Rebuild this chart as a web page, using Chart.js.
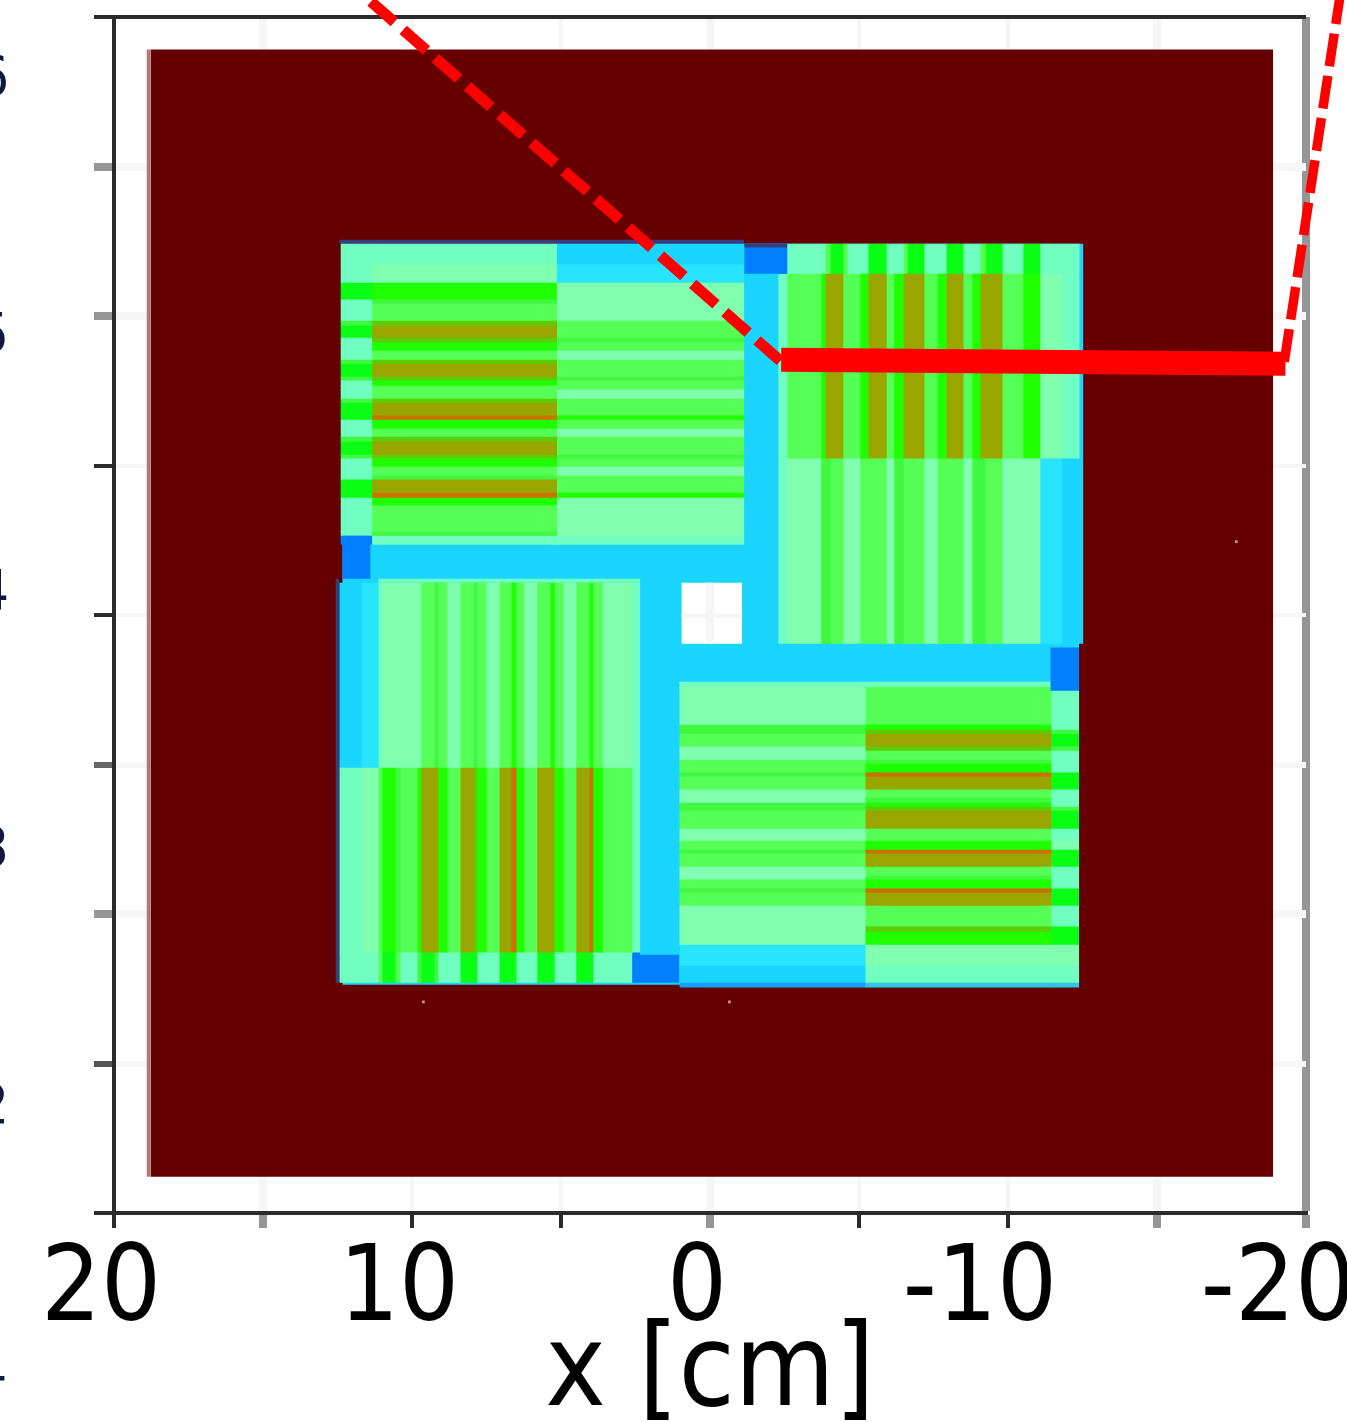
<!DOCTYPE html>
<html>
<head>
<meta charset="utf-8">
<title>x [cm]</title>
<script src="https://cdn.jsdelivr.net/npm/chart.js@4"></script>
<style>
    html, body { margin: 0; padding: 0; background: #fff; overflow: hidden; }
    canvas { display: block; }
</style>
</head>
<body>
<canvas id="map" width="1347" height="1422"></canvas>
<script>
// colour of each flux level, jet style
const levelColors = [
    '#660000', '#0080ff', '#1ad6ff', '#28e4ff', '#70ffc0', '#80ffb0', '#55ff55', '#1eff00',
    '#0aff14', '#99a600', '#cc7000', '#5ccc08', '#40f840', '#b07878', '#f6f6f6', '#334080',
    '#1a9fff', '#30c4e8', '#ffffff'
];

// x0, x1, y0, y1, level in cm
const baseCells = [
    [18.78, -18.90, -18.79, 18.91, 0],
    [18.91, 18.78, -18.79, 18.91, 13],
    [12.34, -12.39, -12.37, 12.42, 2],
    [12.44, -1.15, 12.42, 12.55, 15],
    [12.57, 12.44, -12.30, 1.21, 15],
    [11.13, 2.34, 1.08, 1.21, 4]
];

// top left assembly
const tlX = [12.40, 11.34, 5.14, -1.15];
const tlY = [12.42, 11.72, 11.11, 10.55, 10.41, 9.84, 9.68, 9.27, 9.11, 8.84, 8.54, 8.40, 7.97, 7.84, 7.67, 7.54,
    7.23, 7.10, 6.67, 6.53, 6.23, 5.96, 5.80, 5.36, 5.23, 4.96, 4.66, 4.53, 4.09, 3.92, 3.66, 2.79, 2.65, 2.35];
const tlLevels = [
    [4, 4, 2], [4, 5, 3], [8, 7, 5], [4, 12, 5], [4, 6, 5], [12, 11, 6], [8, 9, 6], [4, 11, 12],
    [4, 7, 6], [4, 6, 5], [12, 11, 6], [8, 9, 6], [12, 11, 12], [4, 7, 6], [4, 6, 6], [4, 6, 5],
    [12, 11, 6], [8, 9, 6], [8, 10, 7], [4, 7, 6], [4, 6, 5], [12, 11, 6], [8, 9, 6], [12, 11, 12],
    [4, 7, 6], [4, 6, 5], [4, 12, 6], [8, 9, 6], [8, 10, 7], [4, 7, 5], [4, 6, 5], [4, 12, 5], [1, 4, 4]
];

// top right assembly, one triple per column
const trX = [-2.29, -2.59, -3.73, -3.87, -4.04, -4.47, -4.61, -5.04, -5.31, -5.92, -6.18, -6.49, -6.62, -7.19,
    -7.63, -7.93, -8.50, -8.80, -9.07, -9.24, -9.81, -10.51, -11.08, -11.82, -12.39, -12.53];
const trY = [12.42, 11.41, 5.23, -0.96];
const trColumns = [
    [1, 4, 4], [4, 6, 5], [4, 7, 12], [6, 9, 12], [8, 9, 6], [6, 6, 5], [4, 6, 5], [4, 7, 6], [8, 9, 6],
    [4, 6, 5], [4, 7, 12], [6, 9, 6], [8, 9, 6], [4, 6, 5], [4, 7, 6], [8, 9, 6], [4, 6, 5], [4, 7, 12],
    [6, 9, 12], [8, 9, 6], [4, 6, 5], [8, 7, 5], [4, 5, 3], [4, 4, 2], [2, 2, 2]
];

// bottom left assembly, one triple per column
const blX = [12.44, 12.27, 11.70, 11.13, 11.00, 10.56, 10.39, 9.82, 9.69, 9.25, 9.12, 8.82, 8.38, 7.94, 7.81,
    7.51, 7.07, 6.67, 6.50, 6.23, 5.80, 5.36, 5.22, 4.92, 4.49, 4.05, 3.92, 3.61, 2.74, 2.61, 2.34];
const blY = [1.08, -5.11, -11.29, -12.30];
const blColumns = [
    [2, 4, 4], [2, 4, 4], [3, 5, 4], [4, 6, 6], [5, 7, 8], [5, 12, 6], [5, 6, 4], [5, 7, 12], [6, 9, 8],
    [12, 9, 12], [6, 7, 4], [5, 6, 4], [6, 9, 8], [12, 11, 8], [6, 7, 4], [5, 6, 4], [6, 9, 8], [7, 10, 8],
    [6, 7, 4], [5, 6, 4], [6, 9, 8], [7, 9, 8], [6, 7, 4], [5, 6, 4], [6, 9, 8], [7, 10, 8], [6, 7, 4],
    [5, 6, 4], [5, 6, 4], [4, 4, 1]
];

// bottom right assembly
const brX = [1.03, -5.21, -11.45, -12.39];
const brY = [-2.23, -2.40, -2.67, -3.67, -3.84, -3.97, -4.40, -4.54, -4.84, -4.97, -5.27, -5.41, -5.84, -6.11,
    -6.28, -6.41, -6.55, -7.15, -7.55, -7.85, -7.98, -8.42, -8.72, -8.85, -9.15, -9.29, -9.72, -10.42, -10.59,
    -11.03, -11.73, -12.30, -12.46];
const brLevels = [
    [4, 4, 1], [5, 6, 4], [5, 6, 4], [12, 7, 4], [12, 11, 12], [6, 9, 8], [5, 11, 12], [5, 6, 4],
    [6, 12, 4], [6, 7, 4], [12, 10, 8], [6, 9, 8], [5, 6, 4], [5, 12, 4], [12, 7, 4], [12, 11, 12],
    [6, 9, 8], [5, 6, 4], [6, 7, 5], [12, 10, 8], [6, 9, 8], [5, 6, 4], [5, 12, 4], [6, 7, 4],
    [12, 10, 8], [6, 9, 8], [5, 6, 4], [5, 11, 8], [5, 7, 8], [3, 5, 5], [2, 4, 4], [16, 17, 17]
];

// corners and the centre hole
const topCells = [
    [12.34, 11.39, 1.21, 2.65, 1],
    [-1.15, -2.59, 11.41, 12.42, 1],
    [-1.15, -2.59, 12.29, 12.42, 15],
    [-11.42, -12.39, -2.53, -1.09, 1],
    [2.61, 1.03, -12.30, -11.36, 1],
    [0.96, -1.08, -0.96, 1.08, 18],
    [0.16, -0.14, -0.96, 1.08, 14],
    [0.96, -1.08, -0.09, 0.04, 14]
];

const specks = [
    { x: -17.66, y: 2.45 },
    { x: 9.62, y: -12.94 },
    { x: -0.65, y: -12.94 }
];

const solidLine = [{ x: -2.39, y: 8.54 }, { x: -19.31, y: 8.40 }];
const dashedLeft = [{ x: -2.36, y: 8.50 }, { x: 11.83, y: 20.91 }];
const dashedRight = [{ x: -19.27, y: 8.47 }, { x: -21.20, y: 21.08 }];

const xTickValues = [20, 15, 10, 5, 0, -5, -10, -15, -20];
// the trailing space pushes the minus labels left like in the original
const xTickLabels = ['20', '', '10', '', '0', '', '-10 ', '', '-20 '];
const xTickWidths = [4, 8, 4, 4, 8, 4, 4, 8, 8];
const xTickColors = ['#2b2b2b', '#969696', '#2b2b2b', '#2b2b2b', '#969696', '#2b2b2b', '#2b2b2b', '#969696', '#969696'];

const yTickValues = [20, 15, 10, 5, 0, -5, -10, -15, -20];
const yTickWidths = [4, 8, 8, 4, 4, 6, 8, 6, 4];
const yTickColors = ['#2b2b2b', '#969696', '#969696', '#2b2b2b', '#2b2b2b', '#666666', '#969696', '#555555', '#2b2b2b'];

// labels of the neighbouring plot, cut by the left edge of the picture
const cutLabels = ['6', '5', '4', '3', '2', '1'];

const fontFamily = "'DejaVu Sans Condensed', 'DejaVu Sans', sans-serif";
// about one pixel, the next cell paints over it so no seams show between cells
const seamOverlap = 0.03;

const cellSets = [];

function addCell(x0, x1, y0, y1, level) {
    cellSets.push({
        data: [{ x: x0, y: y1 }, { x: x1, y: y1 }],
        fill: { value: y0 },
        backgroundColor: levelColors[level],
        borderWidth: 0,
        pointRadius: 0
    });
}

function addGridCell(xs, ys, c, r, level) {
    const xEnd = c + 2 < xs.length ? xs[c + 1] - seamOverlap : xs[c + 1];
    const yEnd = r + 2 < ys.length ? ys[r + 1] - seamOverlap : ys[r + 1];
    addCell(xs[c], xEnd, yEnd, ys[r], level);
}

function addRows(xs, ys, levels) {
    levels.forEach(function (row, r) {
        row.forEach(function (level, c) {
            addGridCell(xs, ys, c, r, level);
        });
    });
}

function addColumns(xs, ys, columns) {
    columns.forEach(function (column, c) {
        column.forEach(function (level, r) {
            addGridCell(xs, ys, c, r, level);
        });
    });
}

baseCells.forEach(function (c) { addCell(c[0], c[1], c[2], c[3], c[4]); });
addRows(tlX, tlY, tlLevels);
addColumns(trX, trY, trColumns);
addColumns(blX, blY, blColumns);
addRows(brX, brY, brLevels);
topCells.forEach(function (c) { addCell(c[0], c[1], c[2], c[3], c[4]); });

cellSets.push({
    data: specks,
    showLine: false,
    pointStyle: 'rect',
    pointRadius: 2,
    pointBackgroundColor: '#c09090',
    pointBorderWidth: 0
});

function redLine(points, width, dash) {
    return {
        data: points,
        borderColor: '#ff0000',
        borderWidth: width,
        borderDash: dash,
        borderCapStyle: 'butt',
        pointRadius: 0,
        fill: false,
        clip: false
    };
}

cellSets.push(redLine(dashedLeft, 11, [31, 11.8]));
cellSets.push(redLine(dashedRight, 9.5, [33, 9.7]));
cellSets.push(redLine(solidLine, 24, []));

// chart.js paints the first dataset last
cellSets.reverse();

const cutLabelPlugin = {
    id: 'cutLabels',
    afterDraw: function (chart) {
        const ctx = chart.ctx;
        ctx.save();
        ctx.font = '56px ' + fontFamily;
        ctx.fillStyle = '#101840';
        ctx.textAlign = 'right';
        ctx.textBaseline = 'middle';
        cutLabels.forEach(function (label, i) {
            ctx.fillText(label, 9, 80 + i * 257);
        });
        ctx.restore();
    }
};

new Chart(document.getElementById('map'), {
    type: 'line',
    data: { datasets: cellSets },
    plugins: [cutLabelPlugin],
    options: {
        responsive: false,
        animation: false,
        layout: { autoPadding: false, padding: { top: 17, right: 41 } },
        plugins: { legend: { display: false }, tooltip: { enabled: false } },
        scales: {
            x: {
                type: 'linear',
                reverse: true,
                min: -20,
                max: 20,
                afterFit: function (scale) {
                    scale.height = 209;
                    scale.paddingLeft = 0;
                    scale.paddingRight = 0;
                },
                afterBuildTicks: function (scale) {
                    scale.ticks = xTickValues.map(function (v) { return { value: v }; });
                },
                border: { color: '#2b2b2b', width: 4 },
                grid: {
                    tickLength: 15,
                    color: function (c) { return c.tick && c.tick.value === -20 ? '#969696' : '#f6f6f6'; },
                    lineWidth: function (c) { return c.tick && c.tick.value === -20 ? 8 : xTickWidths[xTickValues.indexOf(c.tick ? c.tick.value : 0)]; },
                    tickColor: function (c) { return xTickColors[xTickValues.indexOf(c.tick.value)]; },
                    tickWidth: function (c) { return xTickWidths[xTickValues.indexOf(c.tick.value)]; }
                },
                ticks: {
                    autoSkip: false,
                    maxRotation: 0,
                    minRotation: 0,
                    padding: 2,
                    labelOffset: -13,
                    color: '#000000',
                    font: { family: fontFamily, size: 105 },
                    callback: function (v) { return xTickLabels[xTickValues.indexOf(v)]; }
                },
                title: {
                    display: true,
                    text: 'x [cm]',
                    color: '#000000',
                    padding: { top: 0, bottom: -22 },
                    font: { family: fontFamily, size: 114 }
                }
            },
            y: {
                type: 'linear',
                min: -20,
                max: 20,
                afterFit: function (scale) { scale.width = 114; },
                afterBuildTicks: function (scale) {
                    scale.ticks = yTickValues.map(function (v) { return { value: v }; });
                },
                border: { color: '#2b2b2b', width: 4 },
                grid: {
                    tickLength: 20,
                    color: function (c) { return c.tick && c.tick.value === 20 ? '#2b2b2b' : '#f6f6f6'; },
                    lineWidth: function (c) { return yTickWidths[yTickValues.indexOf(c.tick ? c.tick.value : 0)]; },
                    tickColor: function (c) { return yTickColors[yTickValues.indexOf(c.tick.value)]; },
                    tickWidth: function (c) { return yTickWidths[yTickValues.indexOf(c.tick.value)]; }
                },
                ticks: { display: false }
            }
        }
    }
});
</script>
</body>
</html>
